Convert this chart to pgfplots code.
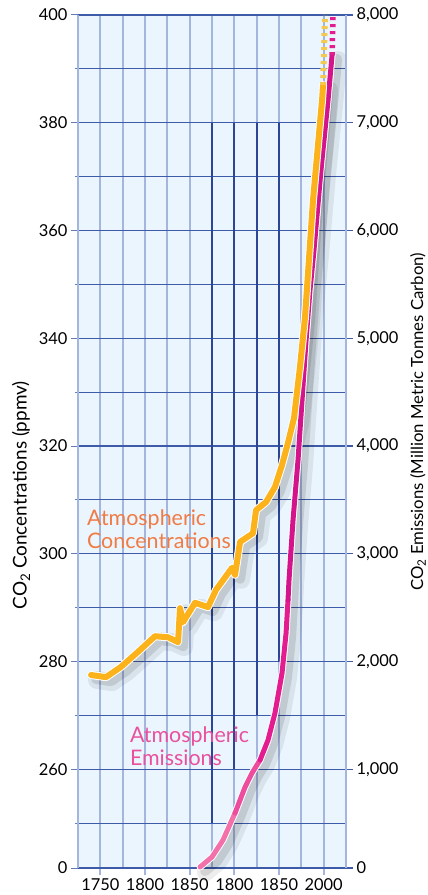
\documentclass[border=0pt]{standalone}
\usepackage{fontspec}
\setmainfont{Lato}
\usepackage{pgfplots}
\usepackage{pgfplotstable}
\pgfplotsset{compat=1.18}

\definecolor{bgblue}{HTML}{EAF5FD}
\definecolor{gridv}{HTML}{A4B6DD}
\definecolor{gridh}{HTML}{3E5BAA}
\definecolor{griddark}{HTML}{2C4596}
\definecolor{co2orange}{HTML}{FBB21B}
\definecolor{co2dash}{HTML}{F5C94E}
\definecolor{lblorange}{HTML}{F07B45}
\definecolor{lblpink}{HTML}{E9519E}
\definecolor{pinkA}{HTML}{F271AB}
\definecolor{pinkB}{HTML}{EC4D9F}
\definecolor{pinkC}{HTML}{E31C8F}
\definecolor{pinkD}{HTML}{D3148A}

% atmospheric CO2 concentration, ppmv
\pgfplotstableread{
year   ppm
1739.6 277.5
1756.3 277.1
1773.1 279.0
1792.2 281.8
1811.2 284.7
1825.8 284.5
1837.0 283.6
1839.2 289.9
1842.5 287.3
1856.0 290.9
1870.5 290.1
1879.5 293.3
1897.4 297.4
1900.8 296.1
1906.4 302.2
1920.9 303.8
1924.3 308.1
1935.5 309.6
1945.5 312.4
1953.4 316.5
1960.1 320.6
1966.8 325.2
1973.5 334.7
1979.1 343.9
1988.1 365.7
1998.2 384.2
1999.3 387.0
2001.5 400.0
}\concdata

% CO2 emissions, million metric tonnes carbon
\pgfplotstableread{
year   emis
1861.6 93
1875.0 186
1887.3 343
1900.8 594
1912.0 835
1919.8 965
1928.8 1086
1937.7 1271
1945.5 1522
1953.4 1893
1957.9 2264
1960.1 2571
1961.2 2756
1965.7 3313
1971.3 3870
1975.8 4427
1980.3 4983
1984.7 5447
1989.2 5819
1997.0 6561
2004.9 7211
2009.4 7628
2010.5 8000
}\emisdata

\pgfplotsset{
  shadowA/.style={black, opacity=0.07, line width=18bp, line join=round, line cap=round, xshift=6bp, yshift=-5bp},
  shadowB/.style={black, opacity=0.11, line width=10bp, line join=round, line cap=round, xshift=5bp, yshift=-4bp},
  curve/.style={line join=round, line cap=round},
}

\begin{document}
\begin{tikzpicture}
\begin{axis}[
  name=ax,
  scale only axis, width=268bp, height=853bp,
  xmin=1725, xmax=2025, ymin=84, ymax=8000,
  clip=false,
  axis background/.style={fill=bgblue},
  xtick={1750,1800,1850,1900,1950,2000},
  xticklabels={1750,1800,1850,1800,1850,2000},
  minor xtick={1725,1775,1825,1875,1925,1975,2025},
  ytick={84,1000,2000,3000,4000,5000,6000,7000,8000},
  yticklabels={0,260,280,300,320,340,360,380,400},
  minor ytick={500,1500,2500,3500,4500,5500,6500,7500},
  xtick pos=lower, ytick pos=left,
  tick align=outside,
  major tick length=7bp, minor tick length=3bp,
  every major x tick/.append style={gridv, line width=2bp},
  every minor x tick/.append style={draw=none},
  every major y tick/.append style={gridh!80, line width=1bp},
  every minor y tick/.append style={gridh!80, line width=1bp},
  grid=both,
  major x grid style={gridv, line width=2bp},
  minor x grid style={gridv, line width=2bp},
  major y grid style={gridh, line width=1.1bp},
  minor y grid style={gridh, line width=1.1bp},
  separate axis lines,
  x axis line style={gridh, line width=1.1bp},
  y axis line style={gridv, line width=2bp},
  tick label style={font=\fontsize{16.5}{19}\selectfont, text=black},
  /pgf/number format/assume math mode=true,
]
% darker vertical grid segments
\draw[griddark, line width=2bp] (axis cs:1875,7000) -- (axis cs:1875,500);
\draw[griddark, line width=2bp] (axis cs:1900,7000) -- (axis cs:1900,1000);
\draw[griddark, line width=2bp] (axis cs:1925,7000) -- (axis cs:1925,1500);
\draw[griddark, line width=2bp] (axis cs:1950,7000) -- (axis cs:1950,2000);

% shadows
\addplot[shadowA, restrict x to domain=1860:2009.5] table[x=year, y=emis] {\emisdata};
\addplot[shadowA, restrict x to domain=1739:1999.4] table[x=year, y expr=50*(\thisrow{ppm}-240)] {\concdata};
\addplot[shadowB, restrict x to domain=1860:2009.5] table[x=year, y=emis] {\emisdata};
\addplot[shadowB, restrict x to domain=1739:1999.4] table[x=year, y expr=50*(\thisrow{ppm}-240)] {\concdata};

% emissions
\addplot[curve, white, line width=7bp, restrict x to domain=1860:2009.5] table[x=year, y=emis] {\emisdata};
\addplot[curve, pinkA, line width=5bp, restrict x to domain=1860:1901] table[x=year, y=emis] {\emisdata};
\addplot[curve, pinkB, line width=5bp, restrict x to domain=1900:1929] table[x=year, y=emis] {\emisdata};
\addplot[curve, pinkC, line width=5bp, restrict x to domain=1928:1960.5] table[x=year, y=emis] {\emisdata};
\addplot[curve, pinkD, line width=5bp, restrict x to domain=1960:2009.5] table[x=year, y=emis] {\emisdata};
\addplot[pinkC, line width=5.5bp, dash pattern=on 3bp off 4bp, restrict x to domain=2009:2011] table[x=year, y=emis] {\emisdata};

% concentrations
\addplot[curve, white, line width=8bp, restrict x to domain=1739:1999.4] table[x=year, y expr=50*(\thisrow{ppm}-240)] {\concdata};
\addplot[curve, co2orange, line width=6bp, restrict x to domain=1739:1999.4] table[x=year, y expr=50*(\thisrow{ppm}-240)] {\concdata};
\addplot[co2dash, line width=6bp, dash pattern=on 3bp off 4bp, restrict x to domain=1999.2:2002] table[x=year, y expr=50*(\thisrow{ppm}-240)] {\concdata};

% series labels
\node[anchor=north west, inner sep=0pt, align=left, text=lblorange,
      font=\fontsize{21.5}{23.5}\selectfont] at (axis cs:1735,3415) {Atmospheric\\Concentrations};
\node[anchor=north west, inner sep=0pt, align=left, text=lblpink,
      font=\fontsize{21.5}{23.5}\selectfont] at (axis cs:1783,1400) {Atmospheric\\Emissions};

% axis titles
\node[rotate=90, font=\fontsize{19}{22}\selectfont] at ([xshift=-57bp]rel axis cs:0,0.437) {CO\textsubscript{2} Concentrations (ppmv)};
\node[rotate=90, font=\fontsize{16.8}{20}\selectfont] at ([xshift=72bp]rel axis cs:1,0.523) {CO\textsubscript{2} Emissions (Million Metric Tonnes Carbon)};
\end{axis}

\begin{axis}[
  scale only axis, width=268bp, height=853bp,
  xmin=1725, xmax=2025, ymin=84, ymax=8000,
  hide x axis,
  axis y line*=right,
  y axis line style={gridv, line width=2.5bp},
  ytick={84,1000,2000,3000,4000,5000,6000,7000,8000},
  yticklabels={0,{1,000},{2,000},{3,000},{4,000},{5,000},{6,000},{7,000},{8,000}},
  tick align=outside, major tick length=7bp,
  every major y tick/.append style={gridh, line width=1.1bp},
  tick label style={font=\fontsize{16.5}{19}\selectfont, text=black},
]
\end{axis}

\pgfresetboundingbox
\path ([shift={(-78bp,-27bp)}]ax.south west) rectangle ([shift={(82bp,15bp)}]ax.north east);
\end{tikzpicture}
\end{document}
